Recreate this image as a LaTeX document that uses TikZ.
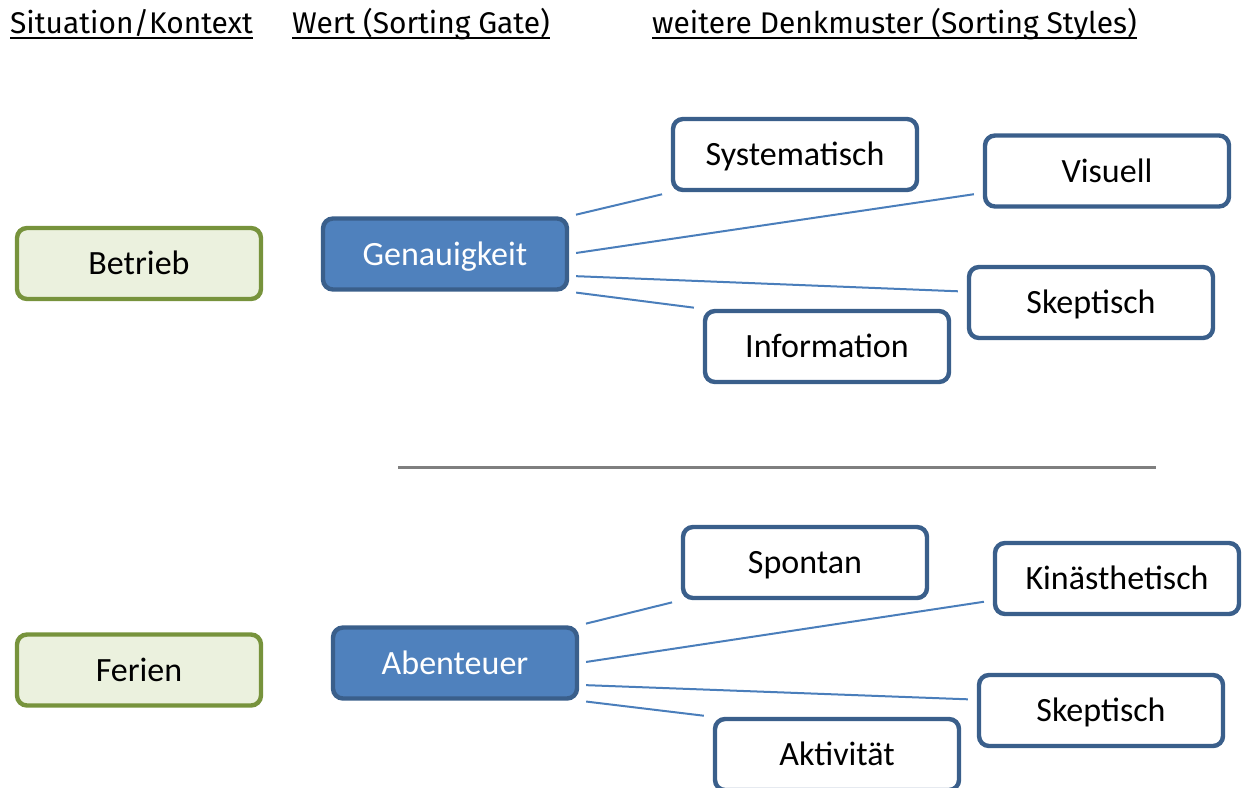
\documentclass[tikz,border=0pt]{standalone}
\usepackage{fontspec}
\setmainfont{Carlito}
\newfontfamily\kopffont{Fira Sans}
\usepackage{tikz}
\usetikzlibrary{arrows}
\definecolor{rahmenblau}{HTML}{3A5F8B}
\definecolor{fuellblau}{HTML}{4F81BD}
\definecolor{rahmengruen}{HTML}{77933C}
\definecolor{fuellgruen}{HTML}{EBF1DE}
\definecolor{linienblau}{HTML}{4A7EBB}
\definecolor{trenngrau}{HTML}{7F7F7F}

\begin{document}
\begin{tikzpicture}[x=1pt, y=-1pt,
				box/.style={draw=rahmenblau, fill=white, line width=4.4pt, rounded corners=10pt, minimum width=244pt, minimum height=71pt, inner sep=0pt, text height=22pt, text depth=0pt, font=\fontsize{34}{40}\selectfont},
				wert/.style={box, fill=fuellblau, text=white},
				situation/.style={box, draw=rahmengruen, fill=fuellgruen},
				kopf/.style={anchor=base west, inner sep=0pt, font=\kopffont\fontsize{29.9}{34}\selectfont},
				link/.style={draw=linienblau, line width=2pt, shorten <=7pt, shorten >=9pt}]
				\useasboundingbox (0,0) rectangle (1246,787);
				% Ueberschriften
				\node[kopf] (kontext) at (10,33) {Situation/Kontext};
				\node[kopf] (gate) at (292,33) {Wert (Sorting Gate)};
				\node[kopf] (styles) at (652,33) {weitere Denkmuster (Sorting Styles)};
				\foreach \k in {kontext,gate,styles} \draw[line width=1.8pt] ([yshift=-5pt]\k.base west) -- ([yshift=-5pt]\k.base east);
				% Betrieb
				\node[situation] (betrieb) at (139,263.5) {Betrieb};
				\node[wert] (gen) at (445,254) {Genauigkeit};
				\node[box] (sys) at (795,154.5) {Systematisch};
				\node[box] (vis) at (1107,171) {Visuell};
				\node[box] (skep) at (1091,302.5) {Skeptisch};
				\node[box] (info) at (827,346.5) {Information};
				\foreach \von/\nach in {gen.north east/sys.south west, gen.east/vis.190, gen.-10/skep.175, gen.south east/info.north west}
					\draw[link] (\von) -- (\nach);
				% Trennlinie
				\coordinate (tl) at (398,467);
				\coordinate (tr) at (1156,467);
				\draw[trenngrau, line width=3pt] (tl) -- (tr);
				% Ferien
				\node[situation] (ferien) at (139,670) {Ferien};
				\node[wert] (abe) at (455,663) {Abenteuer};
				\node[box] (spon) at (805,562.5) {Spontan};
				\node[box] (kin) at (1117,578.5) {Kinästhetisch};
				\node[box] (skepb) at (1101,710.5) {Skeptisch};
				\node[box] (akt) at (837,754.5) {Aktivität};
				\foreach \von/\nach in {abe.north east/spon.south west, abe.east/kin.190, abe.-10/skepb.175, abe.south east/akt.north west}
					\draw[link] (\von) -- (\nach);
\end{tikzpicture}
\end{document}
